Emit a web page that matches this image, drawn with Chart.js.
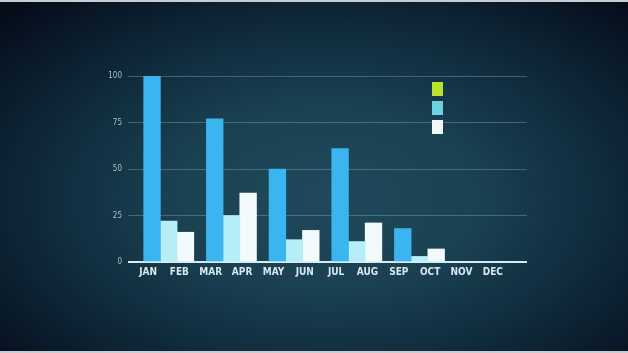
<!DOCTYPE html>
<html>
<head>
<meta charset="utf-8">
<script src="https://cdn.jsdelivr.net/npm/chart.js@4.4.1/dist/chart.umd.min.js"></script>
<style>
  html, body { margin: 0; padding: 0; }
  body {
    width: 628px; height: 353px; overflow: hidden; position: relative;
    background: radial-gradient(ellipse 70% 75% at 52% 56%, #1f4a5b 0%, #1a4152 35%, #0f2a3b 65%, #050d1b 100%);
  }
  .edge { position: absolute; left: 0; width: 628px; height: 2px; background: #c8cdd2; }
  #wrap { position: absolute; left: 0; top: 0; width: 628px; height: 353px; }
  #legend { position: absolute; left: 432px; top: 82px; }
  #legend div { width: 11px; height: 14px; margin-bottom: 5px; }
</style>
</head>
<body>
<div class="edge" style="top:0"></div>
<div class="edge" style="top:351px"></div>
<div id="wrap"><canvas id="chart" width="628" height="353"></canvas></div>
<div id="legend"></div>

<script>
// --- DATA ---
const months = ['JAN', 'FEB', 'MAR', 'APR', 'MAY', 'JUN', 'JUL', 'AUG', 'SEP', 'OCT', 'NOV', 'DEC'];
const seriesBlue  = [100, 77, 50, 61, 18];
const seriesCyan  = [22, 25, 12, 11, 3];
const seriesWhite = [16, 37, 17, 21, 7];
const yTicks = [0, 25, 50, 75, 100];
const legendColors = ['#b8e22c', '#6fd1df', '#f1f7f9'];

// each group of three bars spans two months
const groupX = i => i * 2 + 0.66;
const toPoints = arr => arr.map((v, i) => ({ x: groupX(i), y: v }));

document.getElementById('legend').innerHTML =
    legendColors.map(c => `<div style="background:${c}"></div>`).join('');

new Chart(document.getElementById('chart'), {
    type: 'bar',
    data: {
        datasets: [
            { label: 'Series 1', data: toPoints(seriesBlue),  backgroundColor: '#3bb5f0' },
            { label: 'Series 2', data: toPoints(seriesCyan),  backgroundColor: '#b6eef7' },
            { label: 'Series 3', data: toPoints(seriesWhite), backgroundColor: '#f2fafc' }
        ]
    },
    options: {
        responsive: false,
        animation: false,
        layout: { padding: { top: 76, right: 101, bottom: 61, left: 0 } },
        datasets: { bar: { barThickness: 16.7 } },
        plugins: { legend: { display: false }, tooltip: { enabled: false } },
        scales: {
            x: {
                type: 'linear',
                min: -0.64,
                max: 12.09,
                offset: false,
                afterFit: s => { s.height = 30; },
                grid: { display: false, drawTicks: false },
                border: { display: false },
                ticks: {
                    stepSize: 1,
                    includeBounds: false,
                    autoSkip: false,
                    maxRotation: 0,
                    padding: 4,
                    color: '#d9e7ee',
                    font: { family: 'DejaVu Sans Condensed', size: 10, weight: 'bold' },
                    callback: v => months[v] || ''
                }
            },
            y: {
                min: 0,
                max: 100,
                afterFit: s => { s.width = 128; },
                afterBuildTicks: s => { s.ticks = yTicks.map(v => ({ value: v })); },
                border: { display: false },
                grid: {
                    drawTicks: false,
                    color: c => c.tick.value === 0 ? '#d6ebf2' : 'rgba(130,175,192,0.4)',
                    lineWidth: c => c.tick.value === 0 ? 2 : 1
                },
                ticks: {
                    padding: 6,
                    color: '#a9bfca',
                    font: { family: 'DejaVu Sans Condensed', size: 8 }
                }
            }
        }
    }
});
</script>
</body>
</html>
